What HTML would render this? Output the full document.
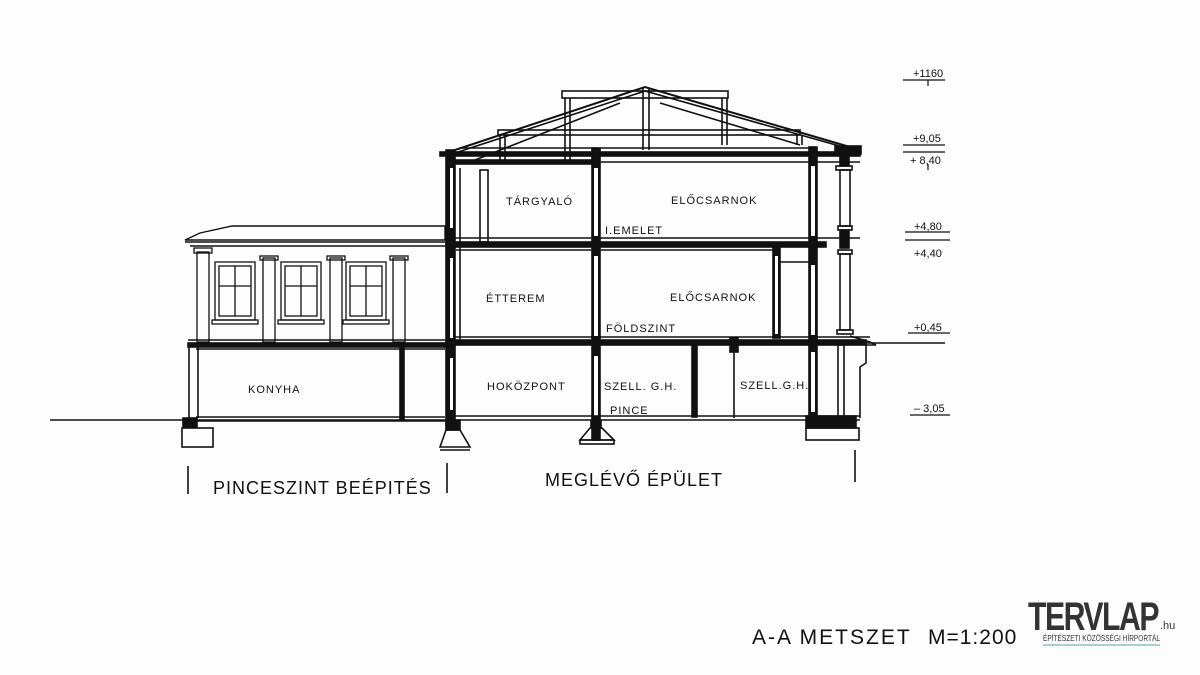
<!DOCTYPE html>
<html><head><meta charset="utf-8"><style>
html,body{margin:0;padding:0;background:#fdfdfd;}
svg{display:block;}
text{font-family:"Liberation Sans","DejaVu Sans",sans-serif;fill:#111;}
</style></head><body>
<svg width="1200" height="675" viewBox="0 0 1200 675" xmlns="http://www.w3.org/2000/svg">
<rect width="1200" height="675" fill="#fdfdfd"/>
<g stroke="#111" fill="none" stroke-width="1.6">
<!-- ground line -->
<line x1="50" y1="420" x2="445" y2="420"/>
<line x1="860" y1="343" x2="945" y2="343"/>
<!-- LEFT ANNEX -->
<polygon points="185,240 200,233 232,226 445,226 445,240" stroke-width="1.4"/>
<line x1="185" y1="242" x2="445" y2="242"/>
<line x1="190" y1="246" x2="445" y2="246"/>
<g stroke-width="1.3">
<rect x="197" y="252" width="12" height="90"/><rect x="194" y="248" width="18" height="5"/>
<rect x="263" y="258" width="12" height="84"/><rect x="260" y="256" width="18" height="4"/>
<rect x="330" y="258" width="12" height="84"/><rect x="327" y="256" width="18" height="4"/>
<rect x="393" y="258" width="12" height="84"/><rect x="390" y="256" width="18" height="4"/>
<rect x="215" y="262" width="40" height="58"/><rect x="219" y="266" width="32" height="50"/><line x1="235" y1="266" x2="235" y2="316"/><line x1="219" y1="286" x2="251" y2="286"/><rect x="212" y="320" width="46" height="4"/>
<rect x="281" y="262" width="40" height="58"/><rect x="285" y="266" width="32" height="50"/><line x1="301" y1="266" x2="301" y2="316"/><line x1="285" y1="286" x2="317" y2="286"/><rect x="278" y="320" width="46" height="4"/>
<rect x="346" y="262" width="40" height="58"/><rect x="350" y="266" width="32" height="50"/><line x1="366" y1="266" x2="366" y2="316"/><line x1="350" y1="286" x2="382" y2="286"/><rect x="343" y="320" width="46" height="4"/>
</g>
<line x1="188" y1="340" x2="445" y2="340"/>
<rect x="188" y="343" width="257" height="4" fill="#111"/>
<line x1="196" y1="349" x2="445" y2="349"/>
<line x1="189" y1="347" x2="189" y2="418"/><line x1="198" y1="347" x2="198" y2="418"/>
<rect x="400" y="347" width="4" height="72" fill="#111"/>
<line x1="196" y1="417" x2="445" y2="417"/><line x1="196" y1="421" x2="445" y2="421"/>
<rect x="183" y="418" width="14" height="9" fill="#111"/>
<rect x="182" y="428" width="31" height="19"/>
<!-- MAIN BUILDING roof -->
<polyline points="446,153 645,87 850,147" stroke-width="2"/>
<polyline points="455,153 645,91 843,147"/>
<rect x="562" y="91" width="166" height="7"/>
<line x1="565" y1="98" x2="565" y2="160"/><line x1="570" y1="98" x2="570" y2="160"/>
<line x1="643" y1="88" x2="643" y2="150"/><line x1="649" y1="88" x2="649" y2="150"/>
<line x1="722" y1="98" x2="722" y2="145"/><line x1="727" y1="98" x2="727" y2="145"/>
<rect x="498" y="130" width="302" height="5"/>
<line x1="500" y1="135" x2="500" y2="160"/><line x1="505" y1="135" x2="505" y2="160"/>
<line x1="797" y1="135" x2="797" y2="145"/><line x1="802" y1="135" x2="802" y2="145"/>
<line x1="460" y1="148" x2="597" y2="148"/>
<line x1="475" y1="160" x2="620" y2="103"/>
<line x1="660" y1="103" x2="800" y2="145"/>
<rect x="440" y="152" width="420" height="4" fill="#111"/>
<line x1="600" y1="148" x2="810" y2="148"/>
<rect x="448" y="160" width="150" height="4" fill="#111"/>
<line x1="600" y1="162" x2="860" y2="162"/>
<rect x="446" y="150" width="9" height="275" fill="#111"/>
<rect x="450" y="168" width="3" height="60" fill="#fff" stroke="none"/>
<rect x="450" y="258" width="3" height="80" fill="#fff" stroke="none"/>
<rect x="450" y="358" width="3" height="52" fill="#fff" stroke="none"/>
<line x1="460" y1="168" x2="460" y2="342"/>
<rect x="592" y="148" width="8" height="292" fill="#111"/>
<rect x="594" y="168" width="4" height="68" fill="#fff" stroke="none"/>
<rect x="594" y="256" width="4" height="80" fill="#fff" stroke="none"/>
<rect x="594" y="356" width="4" height="60" fill="#fff" stroke="none"/>
<rect x="480" y="170" width="8" height="72"/>
<rect x="809" y="147" width="8" height="278" fill="#111"/>
<rect x="811" y="166" width="4" height="70" fill="#fff" stroke="none"/>
<rect x="811" y="265" width="4" height="70" fill="#fff" stroke="none"/>
<rect x="811" y="352" width="4" height="60" fill="#fff" stroke="none"/>
<!-- right outer column -->
<rect x="840" y="156" width="9" height="10" fill="#111"/>
<rect x="836" y="166" width="16" height="4"/>
<rect x="840" y="170" width="10" height="56"/>
<rect x="838" y="226" width="14" height="4"/>
<rect x="840" y="230" width="9" height="18" fill="#111"/>
<rect x="838" y="250" width="14" height="4"/>
<rect x="840" y="254" width="10" height="76"/>
<rect x="837" y="330" width="16" height="4"/>
<rect x="835" y="146" width="26" height="8" fill="#111"/>
<!-- 1st floor slab -->
<line x1="455" y1="238" x2="860" y2="238"/>
<rect x="446" y="242" width="380" height="5" fill="#111"/>
<line x1="456" y1="250" x2="776" y2="250"/>
<rect x="773" y="248" width="7" height="90" fill="#111"/>
<rect x="775" y="256" width="3" height="78" fill="#fff" stroke="none"/>
<line x1="780" y1="262" x2="810" y2="262"/>
<line x1="455" y1="337" x2="870" y2="337"/>
<rect x="446" y="340" width="420" height="5" fill="#111"/>
<polyline points="850,336 870,342 876,345 866,345 866,363 860,367 860,418"/>
<rect x="692" y="345" width="5" height="72" fill="#111"/>
<rect x="730" y="338" width="8" height="14" fill="#111"/>
<line x1="734" y1="352" x2="734" y2="418"/>
<rect x="838" y="345" width="6" height="78"/>
<line x1="455" y1="416" x2="860" y2="416"/>
<line x1="455" y1="420" x2="860" y2="420"/>
<rect x="446" y="420" width="14" height="10" fill="#111"/>
<polygon points="446,430 460,430 470,447 440,447"/>
<line x1="440" y1="450" x2="470" y2="450"/>
<rect x="591" y="420" width="10" height="8" fill="#111"/>
<polygon points="590,428 602,428 614,440 580,440"/>
<rect x="580" y="440" width="34" height="4"/>
<rect x="806" y="416" width="50" height="12" fill="#111"/>
<rect x="806" y="428" width="53" height="12"/>
<line x1="188" y1="466" x2="188" y2="494"/>
<line x1="447" y1="463" x2="447" y2="493"/>
<line x1="855" y1="450" x2="855" y2="482"/>
<g stroke-width="1.2">
<line x1="903" y1="80" x2="945" y2="80"/><line x1="928" y1="80" x2="928" y2="86"/>
<line x1="903" y1="145" x2="945" y2="145"/><line x1="903" y1="152" x2="945" y2="152"/><line x1="928" y1="164" x2="928" y2="170"/>
<line x1="905" y1="232" x2="950" y2="232"/><line x1="905" y1="240" x2="950" y2="240"/>
<line x1="908" y1="333" x2="950" y2="333"/>
<line x1="910" y1="415" x2="950" y2="415"/>
</g>
</g>
<g font-size="11" letter-spacing="1">
<text x="506" y="205">TÁRGYALÓ</text>
<text x="671" y="204">ELŐCSARNOK</text>
<text x="605" y="234">I.EMELET</text>
<text x="486" y="302">ÉTTEREM</text>
<text x="670" y="301">ELŐCSARNOK</text>
<text x="606" y="332">FÖLDSZINT</text>
<text x="248" y="393">KONYHA</text>
<text x="487" y="390">HOKÖZPONT</text>
<text x="604" y="390">SZELL. G.H.</text>
<text x="740" y="389">SZELL.G.H.</text>
<text x="610" y="414">PINCE</text>
</g>
<g font-size="11">
<text x="913" y="77">+1160</text>
<text x="913" y="142">+9,05</text>
<text x="910" y="164">+ 8,40</text>
<text x="914" y="230">+4,80</text>
<text x="914" y="257">+4,40</text>
<text x="914" y="331">+0,45</text>
<text x="914" y="412">– 3,05</text>
</g>
<text x="213" y="494" font-size="18" letter-spacing="1">PINCESZINT BEÉPITÉS</text>
<text x="545" y="486" font-size="18" letter-spacing="1">MEGLÉVŐ ÉPÜLET</text>
<text x="752" y="644" font-size="21" letter-spacing="2">A-A METSZET</text>
<text x="928" y="644" font-size="21" letter-spacing="1">M=1:200</text>
<text x="1028" y="630" font-size="40" font-weight="bold" style="fill:#333" letter-spacing="-2" textLength="130" lengthAdjust="spacingAndGlyphs">TERVLAP</text>
<text x="1160" y="629" font-size="11" style="fill:#333">.hu</text>
<text x="1043" y="641" font-size="8" style="fill:#333" textLength="117" lengthAdjust="spacingAndGlyphs">ÉPÍTÉSZETI KÖZÖSSÉGI HÍRPORTÁL</text>
<line x1="1043" y1="645" x2="1160" y2="645" stroke="#a8d0d0" stroke-width="2"/>
</svg>
</body></html>
